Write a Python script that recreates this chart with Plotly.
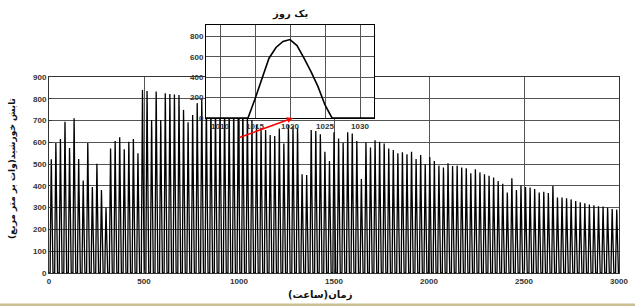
import plotly.graph_objects as go

# Daily peak irradiance (W/m^2), one value per day
daily_peak = [
    522, 597, 615, 695, 574, 710, 523, 425, 597, 395,
    502, 381, 300, 572, 606, 623, 568, 603, 615, 550,
    840, 836, 703, 833, 703, 825, 822, 820, 817, 749,
    692, 726, 780, 800, 780, 770, 760, 775, 765, 755,
    750, 760, 770, 740, 702, 680, 664, 657, 634, 629,
    664, 595, 680, 675, 667, 453, 450, 657, 652, 637,
    557, 514, 646, 618, 598, 646, 640, 606, 432, 600,
    576, 609, 603, 595, 572, 565, 550, 554, 545, 557,
    523, 542, 499, 533, 514, 493, 484, 504, 491, 493,
    484, 481, 458, 476, 462, 453, 447, 439, 422, 410,
    370, 435, 381, 402, 395, 392, 386, 370, 373, 367,
    400, 347, 347, 343, 338, 331, 325, 320, 315, 311,
    306, 305, 300, 294, 291,
]

# Hourly profile of one day (hours 0..23) (hours 1008-1031)
day_profile = [0, 0, 0, 0, 0, 0, 0, 187, 390, 587, 692, 751,
               770, 711, 587, 456, 308, 128, 0, 0, 0, 0, 0, 0]

main_xticks = [0, 500, 1000, 1500, 2000, 2500, 3000]
main_yticks = [0, 100, 200, 300, 400, 500, 600, 700, 800, 900]
inset_xticks = [1010, 1015, 1020, 1025, 1030]
inset_yticks = [0, 200, 400, 600, 800]

prof_max = max(day_profile)
hours, irr = [], []
for d, pk in enumerate(daily_peak):
    for h, p in enumerate(day_profile):
        hours.append(d * 24 + h)
        irr.append(pk * p / prof_max)

W, H = 635, 306
L, R, T, B = 49, 16, 25, 33
pw, ph = W - L - R, H - T - B

def px_x(px):
    return (px - L) / pw

def px_y(py):
    return (H - B - py) / ph

tickfont = dict(family="Liberation Sans, Arial", size=8, color="#333", weight="bold")
grid = "#555"
titlefont = dict(family="DejaVu Sans", size=10, color="#111", weight="bold")

fig = go.Figure()
fig.add_trace(go.Scatter(x=hours, y=irr, mode="lines",
                         line=dict(color="black", width=1.3),
                         xaxis="x", yaxis="y", hoverinfo="skip", showlegend=False))
fig.add_trace(go.Scatter(x=hours, y=irr, mode="lines",
                         line=dict(color="black", width=1.6),
                         xaxis="x2", yaxis="y2", hoverinfo="skip", showlegend=False))

fig.update_layout(
    width=W, height=H,
    margin=dict(l=L, r=R, t=T, b=B, autoexpand=False),
    paper_bgcolor="white", plot_bgcolor="white",
    showlegend=False,
    xaxis=dict(domain=[0, 1], range=[0, 3000], tickvals=main_xticks,
               showgrid=True, gridcolor=grid, gridwidth=1, zeroline=False,
               showline=True, linecolor="#333", linewidth=1, mirror=True,
               ticks="inside", ticklen=3, tickcolor="#333", automargin=False,
               tickfont=tickfont, anchor="y"),
    yaxis=dict(domain=[0, px_y(77)], range=[0, 900], tickvals=main_yticks,
               showgrid=True, gridcolor=grid, gridwidth=1, zeroline=False,
               showline=True, linecolor="#333", linewidth=1, mirror=True,
               ticks="inside", ticklen=3, tickcolor="#333", automargin=False,
               tickfont=tickfont, anchor="x"),
    xaxis2=dict(domain=[px_x(206), px_x(374)], range=[1008, 1032], tickvals=inset_xticks,
                showgrid=True, gridcolor=grid, gridwidth=1, zeroline=False,
                showline=True, linecolor="black", linewidth=1, mirror=True,
                ticks="", tickfont=tickfont, anchor="y2", automargin=False),
    yaxis2=dict(domain=[px_y(118), 1], range=[0, 913], tickvals=inset_yticks,
                showgrid=True, gridcolor=grid, gridwidth=1, zeroline=False,
                showline=True, linecolor="black", linewidth=1, mirror=True,
                ticks="", tickfont=tickfont, anchor="x2", automargin=False),
    annotations=[
        dict(text="یک روز", xref="paper", yref="paper",
             x=(px_x(206) + px_x(374)) / 2, y=px_y(14), yanchor="middle",
             showarrow=False, font=titlefont),
        dict(text="تابش خورشید(وات بر متر مربع)", xref="paper", yref="paper",
             x=px_x(13), y=px_y(169), xanchor="center", yanchor="middle",
             textangle=-90, showarrow=False,
             font=dict(family="DejaVu Sans", size=9, color="#111", weight="bold")),
        dict(text="زمان(ساعت)", xref="paper", yref="paper",
             x=px_x(320), y=px_y(295), yanchor="middle", showarrow=False,
             font=titlefont),
        dict(text="", xref="x", yref="y", x=1284, y=712,
             axref="x", ayref="y", ax=995, ay=620,
             showarrow=True, arrowhead=2, arrowsize=0.8, arrowwidth=1.5, arrowcolor="red"),
        dict(text=" ", xref="paper", yref="paper", x=px_x(W / 2), y=px_y(303),
             xanchor="center", yanchor="top", showarrow=False,
             width=W + 10, height=6, bgcolor="#c9be94", borderpad=0,
             font=dict(size=2)),
    ],
)

fig.write_html("out.html", config={"displayModeBar": False},
               post_script="document.body.style.margin='0';document.body.style.overflow='hidden';")
